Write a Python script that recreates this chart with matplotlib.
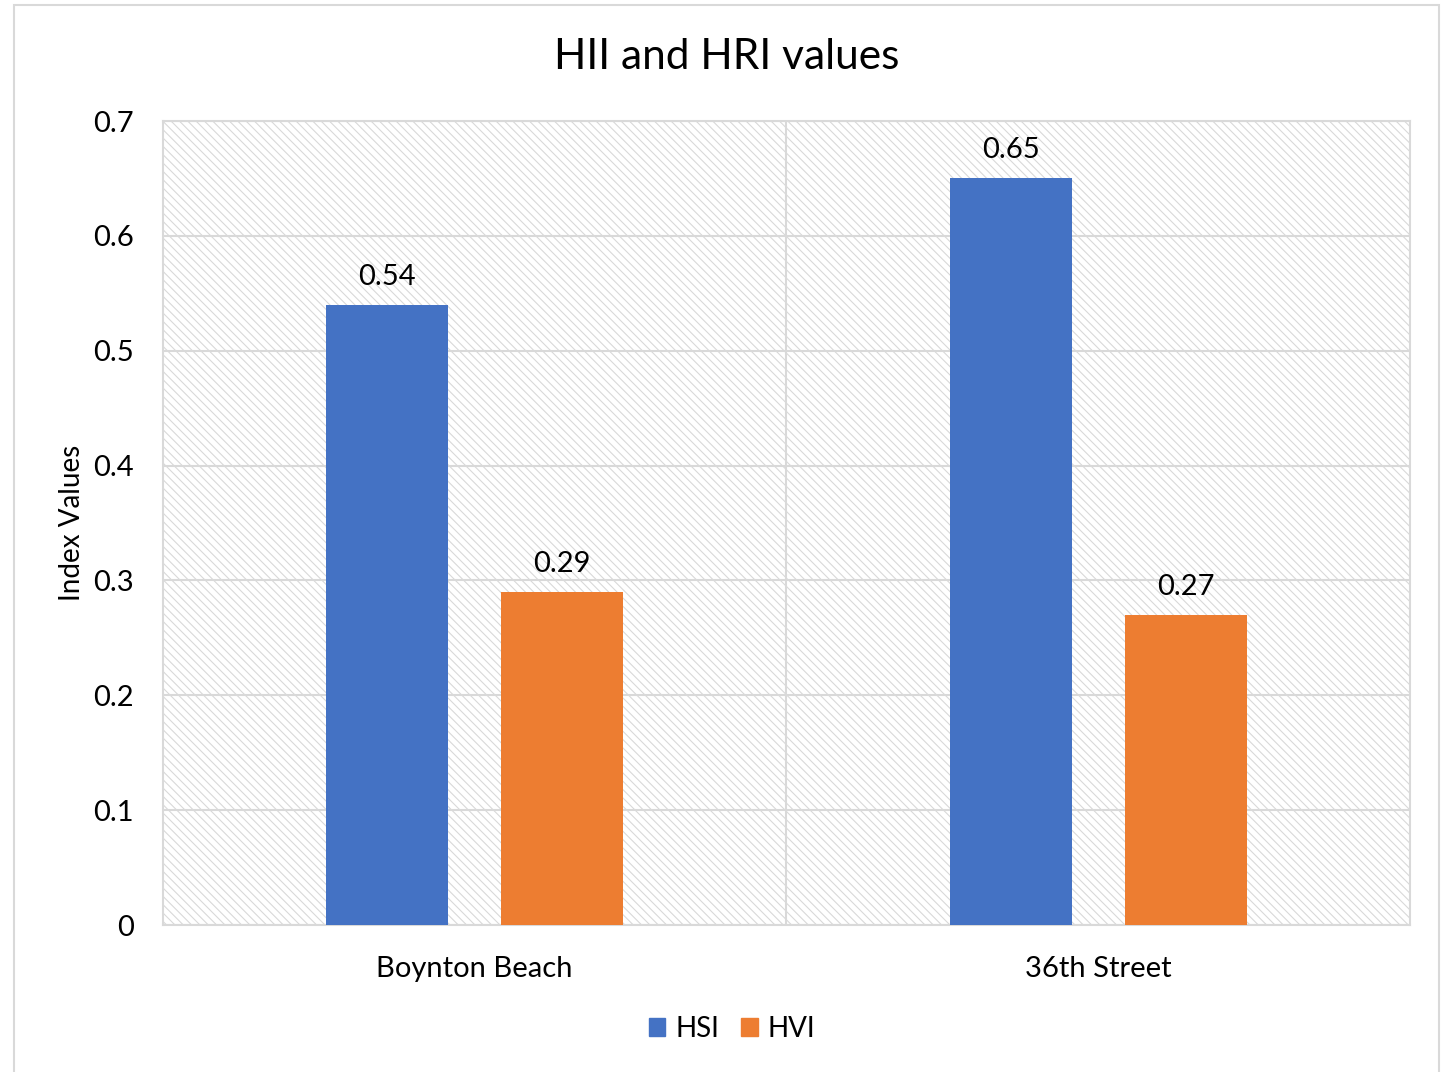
import matplotlib
matplotlib.use("Agg")
import matplotlib.pyplot as plt
import matplotlib.patches as mpatches
import numpy as np

categories = ["Boynton Beach", "36th Street"]
hsi_values = [0.54, 0.65]
hvi_values = [0.29, 0.27]
series_names = ["HSI", "HVI"]
title = "HII and HRI values"
y_label = "Index Values"
y_ticks = [0, 0.1, 0.2, 0.3, 0.4, 0.5, 0.6, 0.7]

BLUE = "#4472C4"
ORANGE = "#ED7D31"
GRID = "#d9d9d9"

plt.rcParams["font.family"] = ["Lato", "DejaVu Sans"]
plt.rcParams["hatch.linewidth"] = 0.8

fig = plt.figure(figsize=(14.42, 10.72), dpi=100)
ax = fig.add_axes([0.113, 0.1371, 0.8648, 0.75])

# outer chart border
fig.add_artist(mpatches.Rectangle((14 / 1442, -0.02), (1439 - 14) / 1442, 1.02 - 5 / 1072,
                                  transform=fig.transFigure, fill=False,
                                  edgecolor=GRID, linewidth=1.5))

# hatched plot area
ax.add_patch(mpatches.Rectangle((0, 0), 1, 1, transform=ax.transAxes,
                                facecolor="none", edgecolor="#d9d9d9", linewidth=0,
                                hatch="\\\\\\\\", zorder=0))

x = np.arange(len(categories))
width = 0.196
offset = 0.1405
b1 = ax.bar(x - offset, hsi_values, width, color=BLUE, label=series_names[0], zorder=3)
b2 = ax.bar(x + offset, hvi_values, width, color=ORANGE, label=series_names[1], zorder=3)

for bars, vals in [(b1, hsi_values), (b2, hvi_values)]:
    for bar, v in zip(bars, vals):
        ax.annotate(f"{v:.2f}", (bar.get_x() + bar.get_width() / 2, v),
                    xytext=(0, 11), textcoords="offset points",
                    ha="center", va="bottom", fontsize=21, color="#000000")

ax.set_xlim(-0.5, 1.5)
ax.set_ylim(0, 0.7)
ax.set_yticks(y_ticks)
ax.set_yticklabels([f"{t:g}" for t in y_ticks], fontsize=21)
ax.set_xticks(x)
ax.set_xticklabels(categories, fontsize=21)
ax.tick_params(axis="both", length=0)
ax.tick_params(axis="y", pad=21)
ax.tick_params(axis="x", pad=22)

ax.yaxis.grid(True, color=GRID, linewidth=1.5, zorder=1)
ax.axvline(0.5, color=GRID, linewidth=1.5, zorder=1)
ax.set_axisbelow(True)
for s in ax.spines.values():
    s.set_color(GRID)
    s.set_linewidth(1.5)

ax.set_ylabel(y_label, fontsize=20, labelpad=6)
fig.text(727 / 1442, 1 - 57 / 1072, title, ha="center", va="center", fontsize=30.5)

handles = [mpatches.Patch(color=BLUE, label=series_names[0]),
           mpatches.Patch(color=ORANGE, label=series_names[1])]
fig.legend(handles=handles, loc="center", bbox_to_anchor=(732 / 1442, 1 - 1029 / 1072),
           ncol=2, frameon=False, fontsize=20, handlelength=0.6, handleheight=0.6,
           handletextpad=0.35, columnspacing=0.8)

fig.savefig("out.png", dpi=100)
